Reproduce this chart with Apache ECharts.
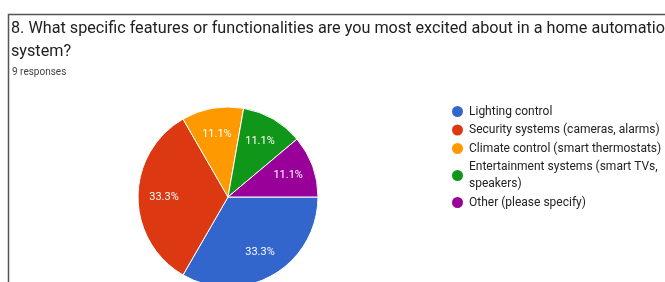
<!DOCTYPE html>
<html>
<head>
<meta charset="utf-8">
<script src="https://cdn.jsdelivr.net/npm/echarts@6/dist/echarts.min.js"></script>
<style>
  html, body { margin: 0; padding: 0; background: #fff; }
  #chart { width: 665px; height: 282px; }
</style>
</head>
<body>
<div id="chart"></div>
<script>
var questionText = '8. What specific features or functionalities are you most excited about in a home automation\nsystem?';
var responsesText = '9 responses';

var categories = [
    'Lighting control',
    'Security systems (cameras, alarms)',
    'Climate control (smart thermostats)',
    'Entertainment systems (smart TVs, speakers)',
    'Other (please specify)'
];
var counts = [3, 3, 1, 1, 1];
var sliceColors = ['#3366cc', '#dc3912', '#ff9900', '#109618', '#990099'];

var pieData = categories.map(function(name, i) {
    return { name: name, value: counts[i], itemStyle: { color: sliceColors[i] } };
});

var chart = echarts.init(document.getElementById('chart'));

var option = {
    animation: false,
    title: [{
        text: questionText,
        left: 6,
        top: 12,
        textStyle: {
            fontFamily: 'Roboto',
            fontSize: 16.2,
            fontWeight: 'normal',
            color: '#202124',
            lineHeight: 23
        }
    }, {
        text: responsesText,
        left: 7,
        top: 62,
        textStyle: {
            fontFamily: 'Roboto',
            fontSize: 10,
            fontWeight: 'normal',
            color: '#444'
        }
    }],
    legend: {
        orient: 'vertical',
        left: 445,
        top: 98,
        icon: 'circle',
        itemWidth: 13,
        itemHeight: 13,
        itemGap: 1.5,
        data: categories,
        formatter: function(name) {
            // the long one wraps in the reference
            return name.replace('TVs, ', 'TVs,\n');
        },
        textStyle: {
            fontFamily: 'Roboto',
            fontSize: 12,
            color: '#222',
            lineHeight: 17
        }
    },
    graphic: [{
        type: 'polyline',
        z: 100,
        shape: { points: [[8.5, 282], [8.5, 14.5], [665, 14.5]] },
        style: { stroke: '#555', lineWidth: 1.5, fill: null }
    }],
    series: [{
        type: 'pie',
        center: [228, 197],
        radius: [0, 90],
        startAngle: 0,
        clockwise: true,
        label: { show: false },
        labelLine: { show: false },
        itemStyle: { borderColor: '#fff', borderWidth: 1 },
        emphasis: { disabled: true },
        data: pieData
    }, {
        // transparent ring only to place percent labels further out
        type: 'pie',
        center: [228, 197],
        radius: [32, 90],
        startAngle: 0,
        clockwise: true,
        silent: true,
        itemStyle: { color: 'rgba(0,0,0,0)' },
        label: {
            show: true,
            position: 'inside',
            formatter: function(p) { return p.percent.toFixed(1) + '%'; },
            color: '#fff',
            fontFamily: 'Roboto',
            fontSize: 11
        },
        labelLine: { show: false },
        emphasis: { disabled: true },
        data: categories.map(function(name, i) {
            return { name: name, value: counts[i] };
        })
    }]
};

chart.setOption(option);
</script>
</body>
</html>
